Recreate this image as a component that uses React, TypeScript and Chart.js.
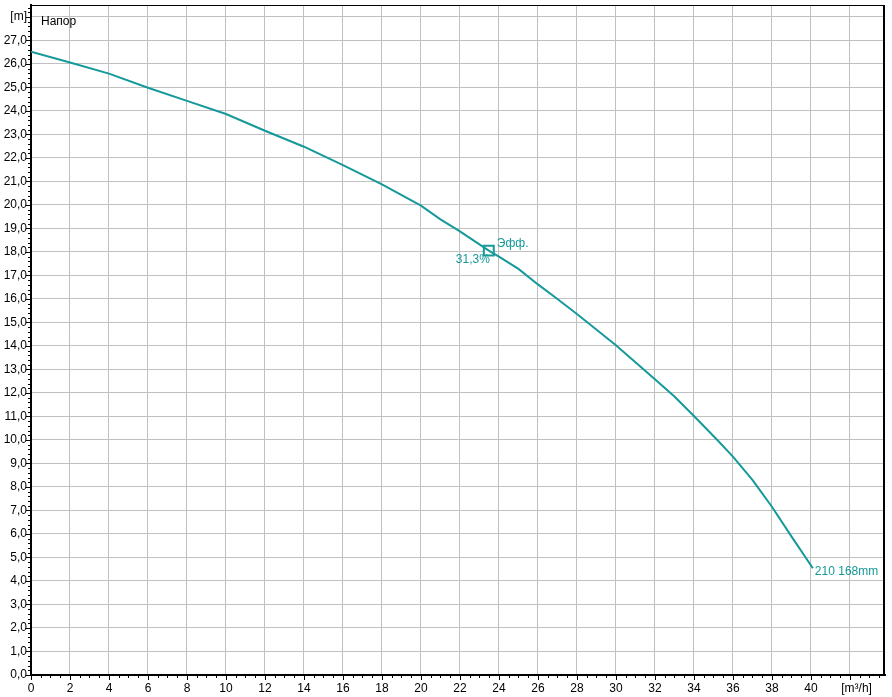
import React, { useEffect, useRef } from "react";
import { Chart, registerables } from "chart.js";
Chart.register(...registerables);

// Flow [m³/h] and head [m] of the pump curve
const flowX = [0, 2, 4, 6, 8, 10, 12, 14, 16, 18, 20, 21, 22, 23.48, 24, 25, 26, 27, 28, 30, 32, 33, 34, 35.2, 36, 37, 38, 39, 40.1];
const headY = [26.52, 26.06, 25.59, 24.99, 24.43, 23.87, 23.16, 22.48, 21.7, 20.88, 19.97, 19.39, 18.88, 18.06, 17.8, 17.28, 16.62, 16.0, 15.36, 14.03, 12.58, 11.85, 11.02, 10.0, 9.29, 8.3, 7.16, 5.9, 4.54];

const xTicks = [0, 2, 4, 6, 8, 10, 12, 14, 16, 18, 20, 22, 24, 26, 28, 30, 32, 34, 36, 38, 40, 42];
const yTicks = [0, 1, 2, 3, 4, 5, 6, 7, 8, 9, 10, 11, 12, 13, 14, 15, 16, 17, 18, 19, 20, 21, 22, 23, 24, 25, 26, 27, 28];
const xUnit = "[m³/h]";
const yUnit = "[m]";

const dutyX = [23.48];
const dutyY = [18.06];
const dutyLabel = "Эфф.";
const effLabel = "31,3%";
const curveLabel = "210 168mm";
const titleLabel = "Напор";

const TEAL = "#15999a";
const FONT = "'Liberation Sans', Arial, sans-serif";

export default function App() {
  const ref = useRef<HTMLCanvasElement | null>(null);

  useEffect(() => {
    document.body.style.margin = "0";
    const canvas = ref.current;
    if (!canvas) return;

    const decor = {
      id: "decor",
      afterDraw(chart: any) {
        const ctx = chart.ctx;
        const { left, right, top, bottom } = chart.chartArea;
        const xs = chart.scales.x;
        const ys = chart.scales.y;
        ctx.save();
        // frame top & right
        ctx.strokeStyle = "#000";
        ctx.lineWidth = 1;
        ctx.beginPath();
        ctx.moveTo(left, top + 0.5);
        ctx.lineTo(right, top + 0.5);
        ctx.stroke();
        ctx.lineWidth = 2;
        ctx.beginPath();
        ctx.moveTo(right - 1, top);
        ctx.lineTo(right - 1, bottom);
        ctx.stroke();
        // minor/major ticks x
        ctx.lineWidth = 1;
        ctx.beginPath();
        for (let i = 0; i <= 87; i++) {
          const v = i * 0.5;
          const px = Math.round(xs.getPixelForValue(v)) + 0.5;
          if (px > right - 2) break;
          const len = i % 4 === 0 ? 4 : 2;
          ctx.moveTo(px, bottom + 1);
          ctx.lineTo(px, bottom + 1 + len);
        }
        // y ticks
        for (let i = 0; i <= 142; i++) {
          const v = i * 0.2;
          const py = Math.round(ys.getPixelForValue(v)) + 0.5;
          if (py < top + 2) break;
          const len = i % 5 === 0 ? 4 : 2;
          ctx.moveTo(left - 1, py);
          ctx.lineTo(left - 1 - len, py);
        }
        ctx.stroke();

        // texts
        ctx.font = "12px " + FONT;
        ctx.fillStyle = "#000";
        ctx.textBaseline = "middle";
        ctx.textAlign = "left";
        ctx.fillText(titleLabel, left + 10, top + 17);

        ctx.fillStyle = TEAL;
        const dx = xs.getPixelForValue(dutyX[0]);
        const dy = ys.getPixelForValue(dutyY[0]);
        ctx.textAlign = "left";
        ctx.fillText(dutyLabel, dx + 8, dy - 7);
        ctx.textAlign = "right";
        ctx.fillText(effLabel, dx + 1, dy + 9);

        const ex = xs.getPixelForValue(flowX[flowX.length - 1]);
        const ey = ys.getPixelForValue(headY[headY.length - 1]);
        ctx.textAlign = "left";
        ctx.fillText(curveLabel, ex + 2, ey + 3);
        ctx.restore();
      },
    };

    const chart = new Chart(canvas, {
      type: "line",
      data: {
        datasets: [
          {
            data: flowX.map((x, i) => ({ x, y: headY[i] })),
            borderColor: TEAL,
            borderWidth: 2,
            pointRadius: 0,
            tension: 0,
            fill: false,
          },
          {
            data: dutyX.map((x, i) => ({ x, y: dutyY[i] })),
            showLine: false,
            pointStyle: "rect",
            pointRadius: 7,
            pointHoverRadius: 7,
            pointBorderWidth: 2,
            pointBorderColor: TEAL,
            pointBackgroundColor: "#fff",
          },
        ],
      },
      options: {
        animation: false,
        responsive: false,
        events: [],
        layout: { autoPadding: false, padding: { top: 5, right: 7, left: 0, bottom: 0 } },
        plugins: { legend: { display: false }, tooltip: { enabled: false } },
        scales: {
          x: {
            type: "linear",
            min: 0,
            max: 43.8,
            afterBuildTicks: (s: any) => {
              s.ticks = xTicks.map((v) => ({ value: v }));
            },
            afterFit: (s: any) => {
              s.height = 22;
              s.paddingLeft = 0;
              s.paddingRight = 0;
              s.paddingTop = 0;
              s.paddingBottom = 0;
            },
            grid: { color: "#c0c0c0", lineWidth: 1, drawTicks: false },
            border: { display: true, color: "#000", width: 2 },
            ticks: {
              padding: 6,
              color: "#000",
              maxRotation: 0,
              autoSkip: false,
              font: { family: FONT, size: 12 },
              callback: (v: any) => (v === 42 ? "    " + xUnit : String(v)),
            },
          },
          y: {
            type: "linear",
            min: 0,
            max: 28.51,
            afterBuildTicks: (s: any) => {
              s.ticks = yTicks.map((v) => ({ value: v }));
            },
            afterFit: (s: any) => {
              s.width = 31;
              s.paddingLeft = 0;
              s.paddingRight = 0;
              s.paddingTop = 0;
              s.paddingBottom = 0;
            },
            grid: { color: "#c0c0c0", lineWidth: 1, drawTicks: false },
            border: { display: true, color: "#000", width: 2 },
            ticks: {
              padding: 4,
              color: "#000",
              autoSkip: false,
              font: { family: FONT, size: 12 },
              callback: (v: any) => (v === 28 ? yUnit : Number(v).toFixed(1).replace(".", ",")),
            },
          },
        },
      },
      plugins: [decor],
    } as any);

    return () => chart.destroy();
  }, []);

  return <canvas ref={ref} width={892} height={697} style={{ display: "block" }} />;
}
